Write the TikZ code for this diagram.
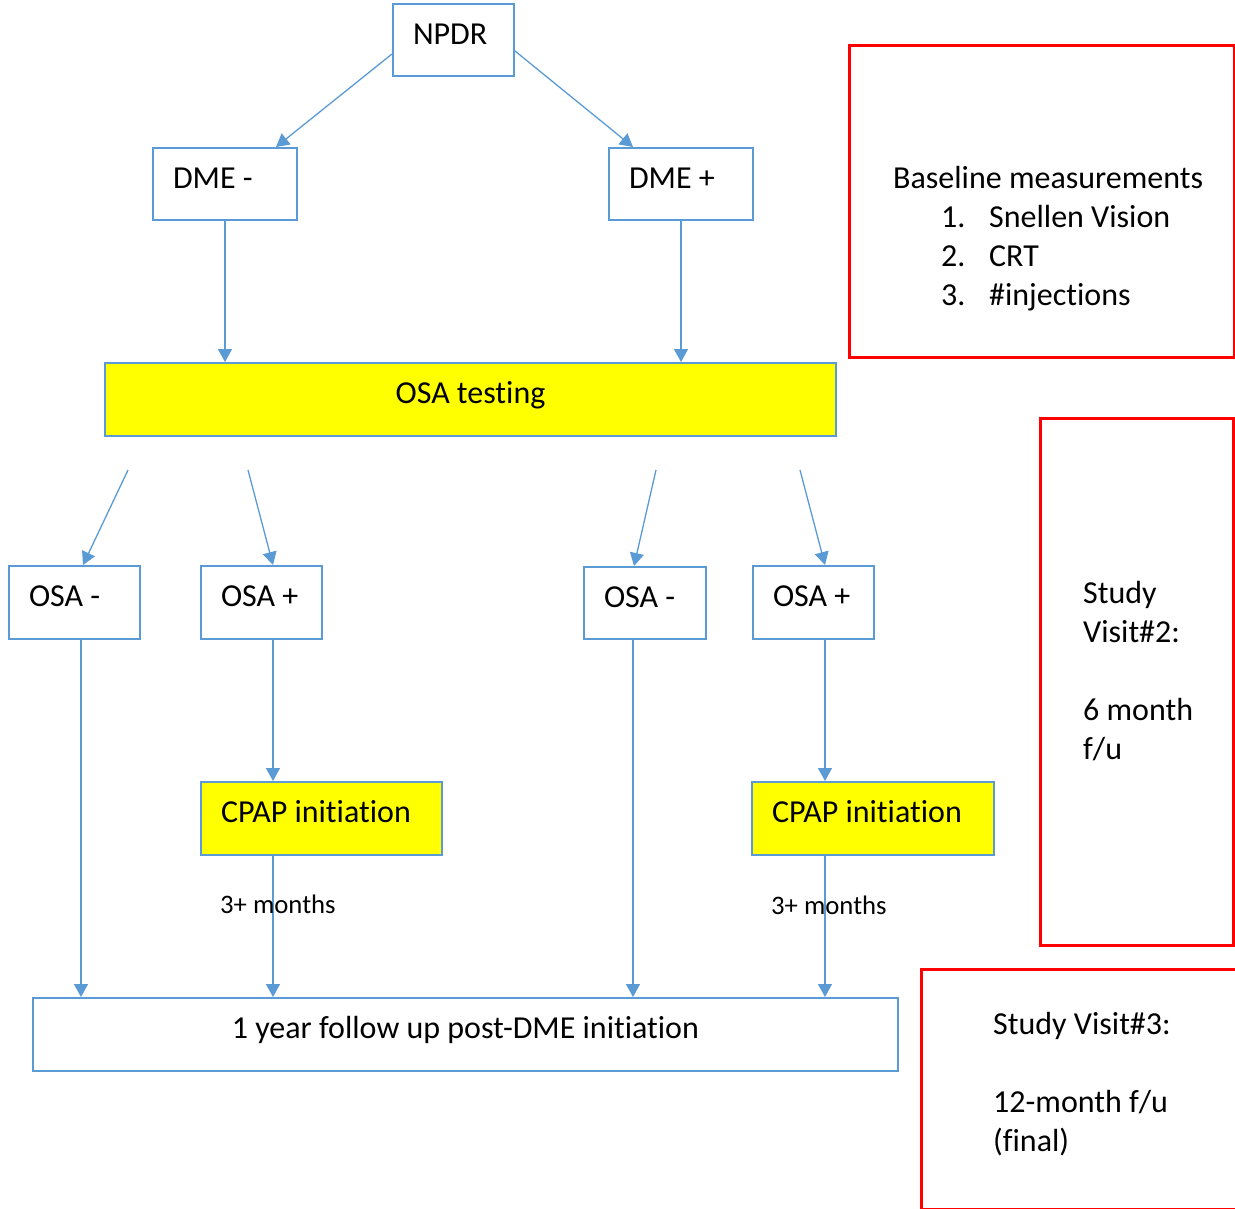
\documentclass[tikz,border=0pt]{standalone}
\usepackage{fontspec}
\setmainfont[Ligatures=NoCommon]{Carlito}
\usetikzlibrary{arrows.meta,calc}
\definecolor{ofblue}{HTML}{5B9BD5}
\definecolor{ofred}{HTML}{FF0000}
\definecolor{ofyellow}{HTML}{FFFF00}
\begin{document}
\begin{tikzpicture}[x=1pt,y=-1pt,
  box/.style={draw=ofblue, line width=2pt, anchor=north west, inner xsep=20pt, inner ysep=0pt,
    text height=40.5pt, font=\fontsize{32}{39}\selectfont},
  ybox/.style={box, fill=ofyellow},
  redbox/.style={draw=ofred, line width=3pt, anchor=north west, inner sep=0pt},
  txt/.style={anchor=base west, inner sep=0pt, font=\fontsize{32}{39}\selectfont},
  small/.style={anchor=base west, inner sep=0pt, font=\fontsize{26.7}{32}\selectfont},
  arr/.style={draw=ofblue, line width=1.3pt, -{Triangle[width=14pt,length=13pt]}}
]
\useasboundingbox (0,0) rectangle (1235,1209);
\fill[white] (0,0) rectangle (1235,1209);

% blue boxes
\node[box, text depth=31.5pt] (npdr) at (392,3) {\makebox[81pt][l]{NPDR}};
\node[box, text depth=31.5pt] (dmem) at (152,147) {\makebox[104pt][l]{DME -}};
\node[box, text depth=31.5pt] (dmep) at (608,147) {\makebox[104pt][l]{DME +}};
\node[ybox, text depth=32.5pt] (osat) at (104,362) {\makebox[691pt]{OSA testing}};
\node[box, text depth=32.5pt] (osam1) at (8,565) {\makebox[91pt][l]{OSA -}};
\node[box, text depth=32.5pt] (osap1) at (200,565) {\makebox[81pt][l]{OSA +}};
\node[box, text depth=31.5pt] (osam2) at (583,566) {\makebox[82pt][l]{OSA -}};
\node[box, text depth=32.5pt] (osap2) at (752,565) {\makebox[81pt][l]{OSA +}};
\node[ybox, text depth=32.5pt] (cpap1) at (200,781) {\makebox[201pt][l]{CPAP initiation}};
\node[ybox, text depth=32.5pt] (cpap2) at (751,781) {\makebox[202pt][l]{CPAP initiation}};
\node[box, text depth=32.5pt] (final) at (32,997) {\makebox[825pt]{1 year follow up post-DME initiation}};

% free arrow starts below OSA testing
\coordinate (s1) at (128,470);
\coordinate (s2) at (248,470);
\coordinate (s3) at (656,470);
\coordinate (s4) at (800,470);

% connectors
\draw[arr] ([yshift=-14pt]npdr.west) -- ([xshift=51pt]dmem.north);
\draw[arr] ([yshift=-11pt]npdr.east) -- ([xshift=-48pt]dmep.north);
\draw[arr] (dmem.south) -- (dmem.south |- osat.north);
\draw[arr] (dmep.south) -- (dmep.south |- osat.north);
\draw[arr] (s1) -- ([xshift=8.5pt]osam1.north);
\draw[arr] (s2) -- ([xshift=11.5pt]osap1.north);
\draw[arr] (s3) -- ([xshift=-11pt]osam2.north);
\draw[arr] (s4) -- ([xshift=11.5pt]osap2.north);
\draw[arr] ([xshift=6.5pt]osam1.south) -- ([xshift=6.5pt]osam1.south |- final.north);
\draw[arr] ([xshift=11.5pt]osap1.south) -- ([xshift=11.5pt]osap1.south |- cpap1.north);
\draw[arr] ([xshift=-48.5pt]cpap1.south) -- ([xshift=-48.5pt]cpap1.south |- final.north);
\draw[arr] ([xshift=-12pt]osam2.south) -- ([xshift=-12pt]osam2.south |- final.north);
\draw[arr] ([xshift=11.5pt]osap2.south) -- ([xshift=11.5pt]osap2.south |- cpap2.north);
\draw[arr] ([xshift=-48pt]cpap2.south) -- ([xshift=-48pt]cpap2.south |- final.north);

% connector labels
\node[small] (m1) at (220,913.5) {3+ months};
\node[small] (m2) at (771,914.5) {3+ months};

% red boxes
\node[redbox, minimum width=385pt, minimum height=312pt] (rb1) at (848,44) {};
\node[redbox, minimum width=193pt, minimum height=527pt] (rb2) at (1039,417) {};
\node[redbox, minimum width=330pt, minimum height=240pt] (rb3) at (920,968) {};

\node[txt] (bl) at (893,189) {\vtop{\baselineskip=39pt
  \hbox{Baseline measurements}
  \hbox{\hspace*{48pt}\makebox[48pt][l]{1.}Snellen Vision}
  \hbox{\hspace*{48pt}\makebox[48pt][l]{2.}CRT}
  \hbox{\hspace*{48pt}\makebox[48pt][l]{3.}\#injections}}};
\node[txt] (sv2) at (1083,603) {\vtop{\baselineskip=39pt
  \hbox{Study}\hbox{Visit\#2:}\hbox{}\hbox{6 month}\hbox{f/u}}};
\node[txt] (sv3) at (993,1034) {\vtop{\baselineskip=39pt
  \hbox{Study Visit\#3:}\hbox{}\hbox{12-month f/u}\hbox{(final)}}};
\end{tikzpicture}
\end{document}
